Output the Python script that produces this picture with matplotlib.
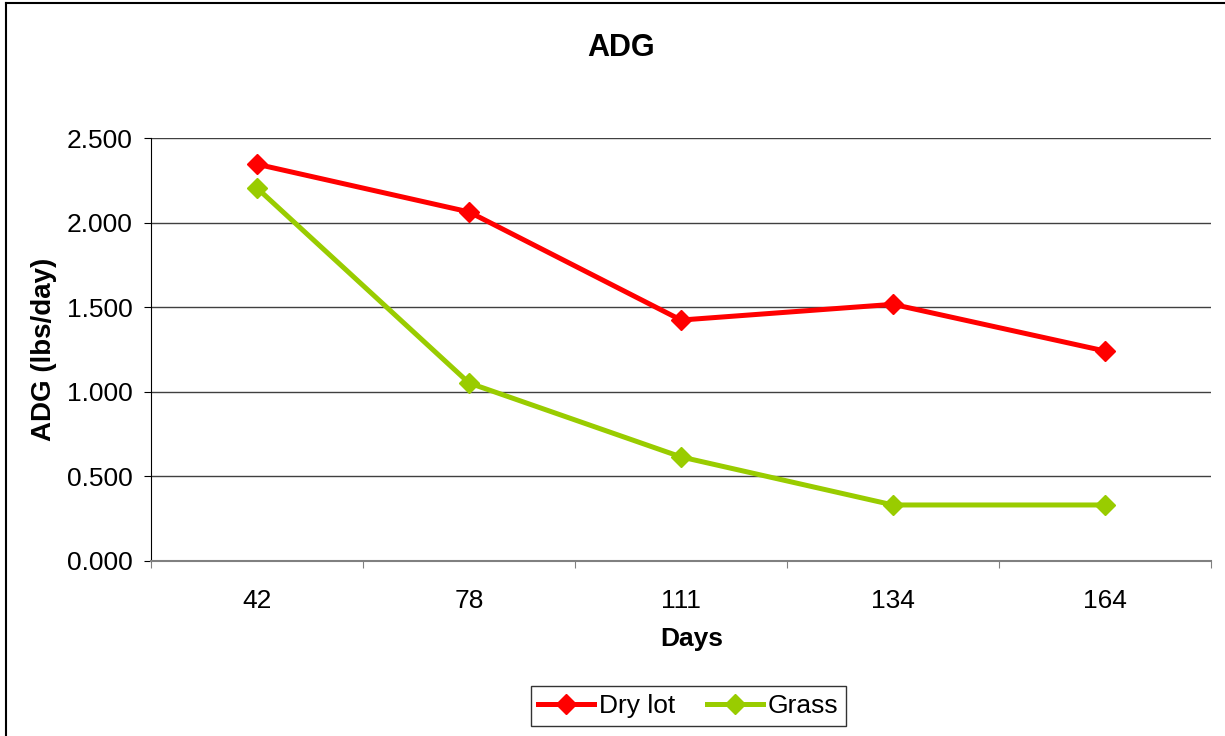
"""ADG line chart - dry lot vs grass"""

import matplotlib
matplotlib.use("Agg")
import matplotlib.pyplot as plt
from matplotlib.ticker import FormatStrFormatter
from matplotlib.lines import Line2D

plt.rcParams["font.family"] = ["Liberation Sans", "DejaVu Sans"]

# ── data ──
days = ["42", "78", "111", "134", "164"]
dry_lot = [2.345, 2.063, 1.424, 1.517, 1.241]
grass = [2.204, 1.052, 0.615, 0.331, 0.331]

# ── plot ──
fig = plt.figure(figsize=(12.25, 7.36), dpi=100)
ax = fig.add_axes([0.1233, 0.2378, 0.8653, 0.5747])

x = list(range(len(days)))
ax.plot(x, dry_lot, color="#ff0000", linewidth=3.6, marker="D", markersize=10,
        label="Dry lot", zorder=3)
ax.plot(x, grass, color="#99cc00", linewidth=3.6, marker="D", markersize=10,
        label="Grass", zorder=3)

ax.set_xlim(-0.5, len(days) - 0.5)
ax.set_ylim(0, 2.5)
ax.set_yticks([0, 0.5, 1.0, 1.5, 2.0, 2.5])
ax.yaxis.set_major_formatter(FormatStrFormatter("%.3f"))
ax.grid(axis="y", color="#404040", linewidth=1.0)
ax.set_axisbelow(True)

# category labels centred, tick marks between categories
ax.set_xticks([i - 0.5 for i in range(len(days) + 1)])
ax.set_xticklabels([])
ax.set_xticks(x, minor=True)
ax.set_xticklabels(days, minor=True)
ax.tick_params(axis="x", which="major", direction="out", length=5, color="#808080")
ax.tick_params(axis="x", which="minor", length=0, pad=20, labelsize=19)
ax.tick_params(axis="y", direction="out", length=5, color="black", labelsize=19, pad=8)

for s in ("top", "right"):
    ax.spines[s].set_visible(False)
ax.spines["left"].set_color("black")
ax.spines["bottom"].set_color("#808080")
ax.spines["bottom"].set_linewidth(1.5)

# title sits on the chart centre, not the plot-area centre
fig.text(0.507, 0.935, "ADG", fontsize=22, fontweight="bold",
         ha="center", va="center")
ax.set_xlabel("Days", fontsize=19, fontweight="bold", labelpad=10, x=0.51)
ax.set_ylabel("ADG (lbs/day)", fontsize=20, fontweight="bold", labelpad=7)

leg = fig.legend(loc="center", bbox_to_anchor=(0.562, 0.041), ncol=2,
                 fontsize=19, frameon=True, fancybox=False, edgecolor="black",
                 handlelength=2.1, columnspacing=1.2, handletextpad=0.2,
                 borderpad=0.3)
leg.get_frame().set_linewidth(1.0)

# outer chart border (left and top visible)
fig.add_artist(Line2D([0.005, 0.005], [0, 0.996], transform=fig.transFigure,
                      color="black", linewidth=1.5))
fig.add_artist(Line2D([0.005, 1.0], [0.996, 0.996], transform=fig.transFigure,
                      color="black", linewidth=1.5))

plt.savefig("out.png", dpi=100)
